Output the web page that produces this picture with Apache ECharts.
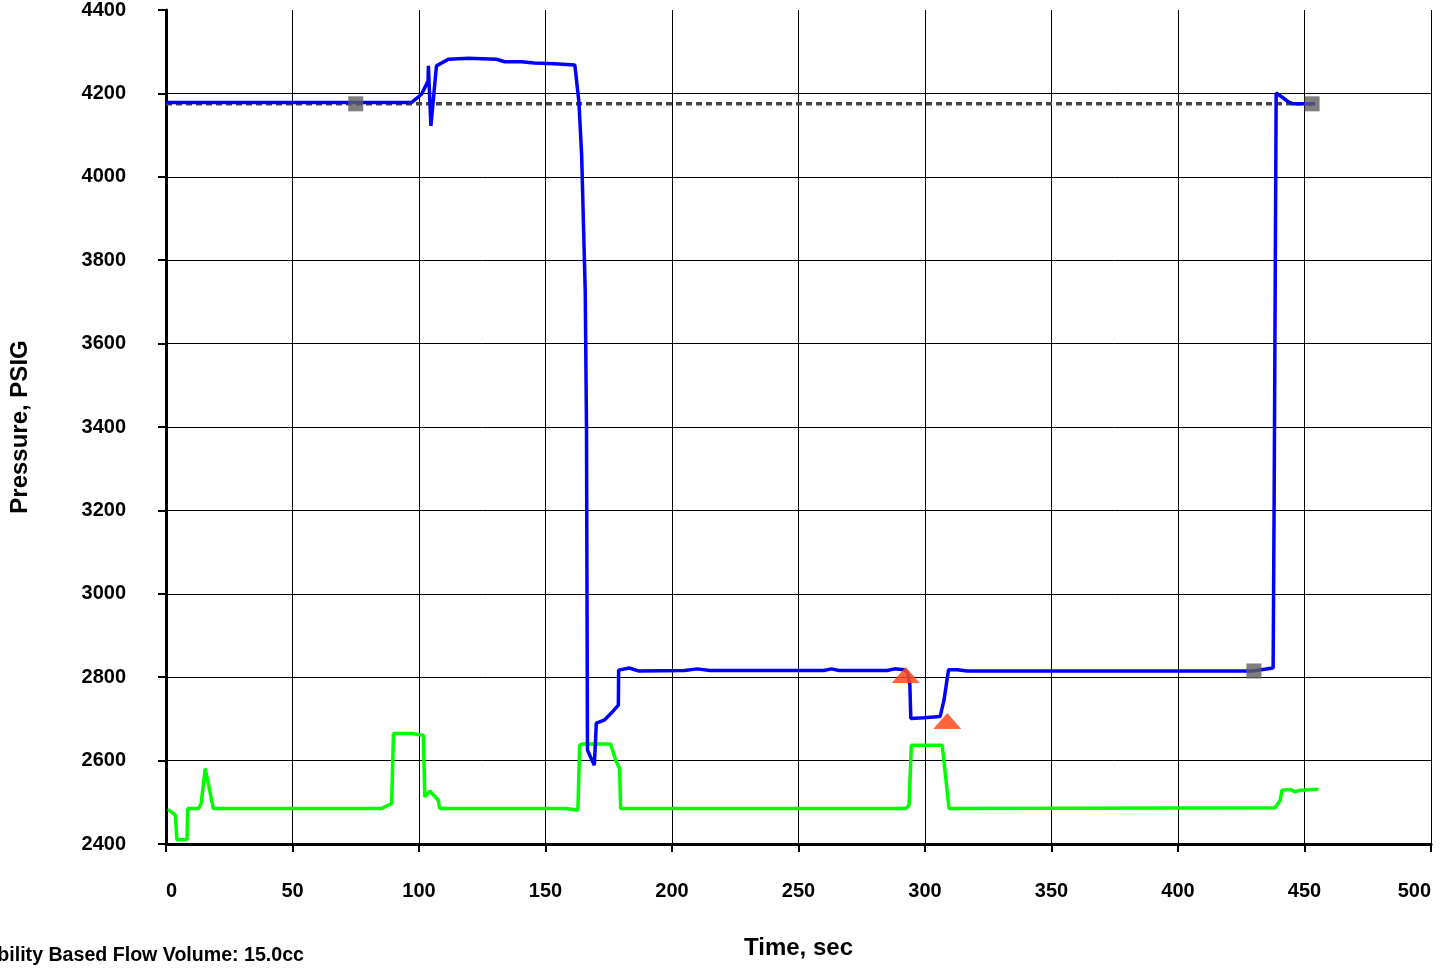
<!DOCTYPE html>
<html>
<head>
<meta charset="utf-8">
<script src="https://cdn.jsdelivr.net/npm/echarts@6/dist/echarts.min.js"></script>
<style>html,body{margin:0;padding:0;background:#fff;}#c{width:1450px;height:968px;}</style>
</head>
<body>
<div id="c"></div>
<script>
// Blue pressure trace
const blueTime = [0, 97, 101, 103.6, 103.7, 104.7, 106.9, 111.6, 119.5, 130.6, 133.9, 140.5, 145.6, 153.5, 161.6, 163.2, 164.3, 165.7, 166.2, 166.6, 169.3, 170.1, 173.2, 176, 178.8, 178.9, 183.1, 186.7, 205, 210, 215, 260, 263, 266, 285, 288, 291.8, 293, 294, 294.4, 299.7, 306, 307.5, 309.3, 312.8, 316.7, 429.4, 437.6, 438, 438.8, 441.6, 443.6, 445.5, 454.2];
const bluePsi  = [4178, 4178, 4198, 4230, 4266, 4122, 4266, 4282, 4284, 4282, 4276, 4276, 4273, 4271, 4268, 4180, 4050, 3727, 3400, 2625, 2589, 2690, 2697, 2714, 2733, 2817, 2822, 2815, 2816, 2820, 2816, 2816, 2820, 2816, 2816, 2820, 2818, 2811, 2784, 2701, 2703, 2706, 2745, 2818, 2818, 2815, 2815, 2822, 3224, 4201, 4189, 4180, 4175, 4175];
// Green trace
const greenTime = [0.8, 3.7, 4.3, 8.3, 8.6, 12.9, 13.9, 15.5, 18.7, 85.2, 89.2, 89.9, 97.1, 101.7, 102.3, 104.3, 107.6, 108.2, 158.2, 162.8, 163.5, 164.7, 175.7, 178, 179.3, 179.7, 292.4, 293.7, 294.6, 306.8, 309.5, 438.4, 440.4, 441.1, 444.3, 446.3, 448.3, 455.5];
const greenPsi  = [2483, 2469, 2410, 2411, 2485, 2485, 2497, 2581, 2485, 2485, 2497, 2665, 2665, 2661, 2513, 2527, 2505, 2485, 2485, 2481, 2637, 2640, 2640, 2597, 2581, 2485, 2485, 2493, 2637, 2637, 2485, 2487, 2505, 2529, 2531, 2525, 2529, 2531];
// Dotted reference line
const refTime = [0, 453];
const refPsi  = [4175, 4175];
// Gray square markers
const squareTime = [75, 453, 430];
const squarePsi  = [4175, 4175, 2815];
// Orange triangle markers
const triTime = [292.4, 308.8];
const triPsi  = [2805, 2695];

const xTicks = [0, 50, 100, 150, 200, 250, 300, 350, 400, 450, 500];
const yTicks = [2400, 2600, 2800, 3000, 3200, 3400, 3600, 3800, 4000, 4200, 4400];
const footNote = 'Permeability Based Flow Volume: 15.0cc';

const zip = (a, b) => a.map((v, i) => [v, b[i]]);
const FONT = '"Liberation Sans", Arial, sans-serif';

const chart = echarts.init(document.getElementById('c'), null, {renderer: 'canvas'});
chart.setOption({
  animation: false,
  backgroundColor: '#fff',
  grid: {left: 164, right: 19, top: 9, bottom: 124, containLabel: false},
  xAxis: {
    type: 'value', min: xTicks[0], max: xTicks[xTicks.length - 1], interval: 50,
    name: 'Time, sec', nameLocation: 'middle', nameGap: 92,
    nameTextStyle: {fontFamily: FONT, fontWeight: 'bold', fontSize: 24, color: '#000'},
    axisLine: {show: true, onZero: false, lineStyle: {color: '#000', width: 3}},
    axisTick: {show: true, length: 8, lineStyle: {color: '#000', width: 2}},
    axisLabel: {fontFamily: FONT, fontWeight: 'bold', fontSize: 20, color: '#000', margin: 37,
      alignMinLabel: 'left', alignMaxLabel: 'right', formatter: v => String(v)},
    splitLine: {show: true, showMinLine: false, lineStyle: {color: '#000', width: 1}}
  },
  yAxis: {
    type: 'value', min: yTicks[0], max: yTicks[yTicks.length - 1], interval: 200,
    name: 'Pressure, PSIG', nameLocation: 'middle', nameGap: 134, nameRotate: 90,
    nameTextStyle: {fontFamily: FONT, fontWeight: 'bold', fontSize: 24, color: '#000'},
    axisLine: {show: true, onZero: false, lineStyle: {color: '#000', width: 3}},
    axisTick: {show: true, length: 8, lineStyle: {color: '#000', width: 2}},
    axisLabel: {fontFamily: FONT, fontWeight: 'bold', fontSize: 20, color: '#000', margin: 40,
      padding: [6, 0, 0, 0], formatter: v => String(v)},
    splitLine: {show: true, showMinLine: false, showMaxLine: false, lineStyle: {color: '#000', width: 1}}
  },
  graphic: [{
    type: 'text', right: 1450 - 304, top: 946,
    style: {text: footNote, font: 'bold 19.6px ' + FONT, fill: '#000'}
  }],
  series: [
    {type: 'line', data: zip(greenTime, greenPsi), symbol: 'none', z: 2,
     lineStyle: {color: '#00ff00', width: 3.5}},
    {type: 'line', data: zip(refTime, refPsi), symbol: 'none', z: 3,
     lineStyle: {color: '#444', width: 3.5, type: [6, 4]}},
    {type: 'line', data: zip(blueTime, bluePsi), symbol: 'none', z: 4,
     lineStyle: {color: '#0000ff', width: 3.5}},
    {type: 'scatter', data: zip(squareTime, squarePsi), symbol: 'rect', symbolSize: 15, z: 5,
     itemStyle: {color: '#5f5f5f'}},
    {type: 'scatter', data: zip(triTime, triPsi), symbol: 'triangle', symbolSize: [28, 16], z: 6,
     itemStyle: {color: '#ff4a1a', opacity: 0.85}}
  ]
});
</script>
</body>
</html>
